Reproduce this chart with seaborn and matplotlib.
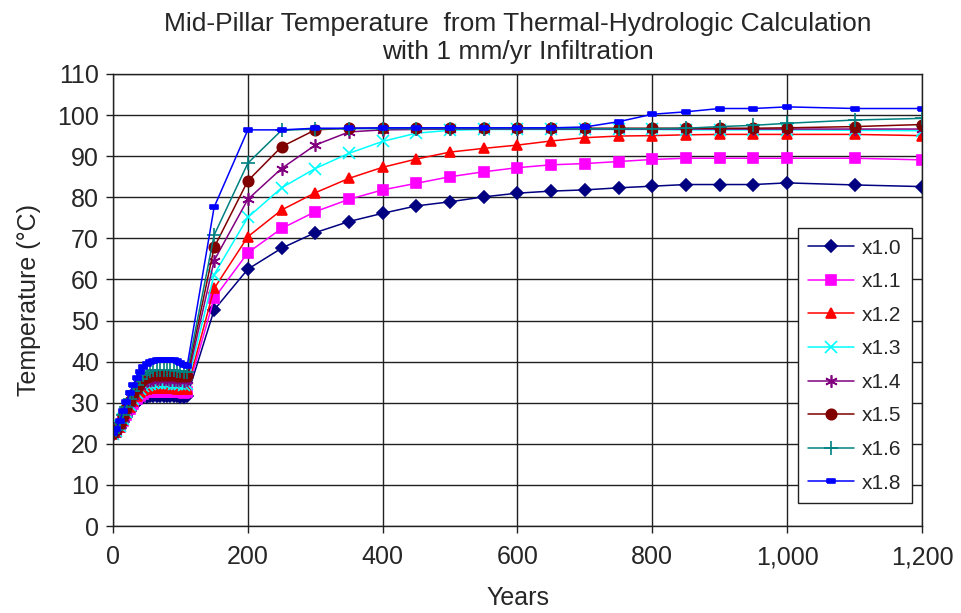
import matplotlib
matplotlib.use("Agg")
import matplotlib.pyplot as plt
import numpy as np
import pandas as pd
import seaborn as sns
from matplotlib.ticker import StrMethodFormatter

# %% data
years = [0, 5, 10, 15, 20, 25, 30, 35, 40, 45, 50, 55, 60, 65, 70, 75, 80, 85,
         90, 95, 100, 105, 110,
         150, 200, 250, 300, 350, 400, 450, 500, 550, 600, 650, 700, 750, 800,
         850, 900, 950, 1000, 1100, 1200]

t_10 = [22.3, 22.8, 23.8, 25.2, 26.6, 28.0, 29.2, 30.2, 30.9, 31.3, 31.5, 31.6,
        31.6, 31.7, 31.7, 31.7, 31.7, 31.6, 31.6, 31.6, 31.5, 31.5, 31.6,
        52.6, 62.5, 67.6, 71.4, 74.1, 76.1, 77.9, 78.9, 80.1, 81.0, 81.5, 81.8,
        82.3, 82.7, 83.1, 83.1, 83.1, 83.5, 83.0, 82.6]
t_11 = [22.4, 22.9, 24.0, 25.5, 27.0, 28.5, 29.8, 30.9, 31.7, 32.2, 32.5, 32.6,
        32.6, 32.7, 32.7, 32.7, 32.6, 32.6, 32.6, 32.5, 32.5, 32.4, 32.5,
        55.4, 66.5, 72.4, 76.5, 79.5, 81.8, 83.4, 85.0, 86.2, 87.2, 87.9, 88.2,
        88.7, 89.2, 89.5, 89.5, 89.5, 89.5, 89.5, 89.1]
t_12 = [22.4, 23.0, 24.2, 25.8, 27.4, 29.0, 30.4, 31.6, 32.5, 33.1, 33.4, 33.5,
        33.5, 33.6, 33.6, 33.6, 33.5, 33.5, 33.5, 33.4, 33.4, 33.3, 33.4,
        57.8, 70.4, 76.9, 81.1, 84.6, 87.3, 89.3, 91.0, 91.9, 92.7, 93.7, 94.5,
        94.9, 95.0, 95.2, 95.3, 95.3, 95.3, 95.3, 95.0]
t_13 = [22.5, 23.1, 24.4, 26.1, 27.8, 29.5, 31.0, 32.3, 33.3, 34.0, 34.4, 34.6,
        34.7, 34.7, 34.8, 34.8, 34.7, 34.7, 34.6, 34.6, 34.5, 34.4, 34.5,
        61.2, 75.1, 82.3, 87.0, 90.7, 93.6, 95.6, 96.3, 96.5, 96.5, 96.5, 96.5,
        96.5, 96.5, 96.4, 96.4, 96.4, 96.4, 96.3, 96.2]
t_14 = [22.5, 23.2, 24.6, 26.4, 28.2, 30.0, 31.6, 33.0, 34.1, 34.9, 35.3, 35.5,
        35.6, 35.7, 35.7, 35.7, 35.7, 35.6, 35.6, 35.5, 35.5, 35.4, 35.5,
        64.6, 79.5, 87.0, 92.7, 95.9, 96.4, 96.5, 96.6, 96.6, 96.6, 96.6, 96.6,
        96.6, 96.6, 96.6, 96.6, 96.6, 96.6, 96.6, 96.6]
t_15 = [22.6, 23.3, 24.8, 26.7, 28.6, 30.5, 32.2, 33.7, 34.9, 35.8, 36.3, 36.6,
        36.7, 36.8, 36.8, 36.8, 36.8, 36.7, 36.7, 36.6, 36.5, 36.4, 36.4,
        67.8, 84.0, 92.3, 96.4, 96.8, 96.8, 96.8, 96.8, 96.8, 96.8, 96.8, 96.8,
        96.8, 96.8, 96.8, 96.8, 96.8, 96.9, 97.2, 97.7]
t_16 = [22.6, 23.4, 25.0, 27.0, 29.0, 31.0, 32.8, 34.4, 35.7, 36.7, 37.3, 37.7,
        37.9, 38.0, 38.0, 38.0, 38.0, 37.9, 37.9, 37.8, 37.7, 37.5, 37.5,
        70.8, 88.3, 96.3, 96.6, 96.7, 96.7, 96.7, 96.7, 96.7, 96.7, 96.7, 96.7,
        96.7, 96.7, 96.8, 97.2, 97.5, 98.0, 98.8, 99.2]
t_18 = [22.7, 23.6, 25.6, 28.0, 30.2, 32.4, 34.4, 36.1, 37.5, 38.6, 39.4, 39.9,
        40.2, 40.4, 40.5, 40.5, 40.5, 40.4, 40.3, 40.1, 39.7, 39.2, 39.0,
        77.6, 96.4, 96.4, 96.8, 96.8, 96.9, 96.9, 96.9, 96.9, 96.9, 96.9, 97.1,
        98.4, 100.2, 100.8, 101.6, 101.6, 102.0, 101.6, 101.6]

labels = ["x1.0", "x1.1", "x1.2", "x1.3", "x1.4", "x1.5", "x1.6", "x1.8"]
series = [t_10, t_11, t_12, t_13, t_14, t_15, t_16, t_18]

colors = ["#000080", "#FF00FF", "#FF0000", "#00FFFF", "#800080", "#800000",
          "#008080", "#0000FF"]
dash = [(-1, -0.45), (1, -0.45), (1, 0.45), (-1, 0.45), (-1, -0.45)]
markers = ["D", "s", "^", "x", (6, 2, 0), "o", "+", dash]
msizes = [6, 7.5, 7.5, 8, 9, 7.5, 10, 6]

df = pd.DataFrame({"Years": years})
for lab, s in zip(labels, series):
    df[lab] = s
df = df.melt(id_vars="Years", var_name="case", value_name="Temp")

# %% plot
sns.set_style("white")
plt.rcParams["font.family"] = ["Liberation Sans", "DejaVu Sans"]

fig = plt.figure(figsize=(9.61, 6.13), dpi=100)
ax = fig.add_axes([0.1176, 0.1419, 0.8418, 0.7374])

for lab, c, m, ms in zip(labels, colors, markers, msizes):
    sub = df[df["case"] == lab]
    sns.lineplot(data=sub, x="Years", y="Temp", ax=ax, color=c, lw=1.1,
                 marker=m, markersize=ms, markeredgecolor=c, markerfacecolor=c,
                 markeredgewidth=1.2, label=lab, sort=False)

ax.set_xlim(0, 1200)
ax.set_ylim(0, 110)
ax.set_xticks(np.arange(0, 1201, 200))
ax.set_yticks(np.arange(0, 111, 10))
ax.xaxis.set_major_formatter(StrMethodFormatter("{x:,.0f}"))
ax.grid(True, color="#202020", lw=1.0)
ax.set_axisbelow(True)
for sp in ax.spines.values():
    sp.set_color("#202020")
    sp.set_linewidth(1.0)
ax.tick_params(direction="out", length=5, width=1, color="#202020",
               labelsize=18, bottom=True, left=True)
ax.tick_params(axis="x", pad=9)
ax.tick_params(axis="y", pad=5)

ax.set_xlabel("Years", fontsize=18, labelpad=12)
ax.set_ylabel("Temperature (\u00b0C)", fontsize=18, labelpad=12)
ax.set_title("Mid-Pillar Temperature  from Thermal-Hydrologic Calculation\n"
             "with 1 mm/yr Infiltration", fontsize=19, pad=11, linespacing=1.2)

leg = ax.legend(loc="upper right", bbox_to_anchor=(0.988, 0.659), fontsize=15,
                frameon=True, fancybox=False, edgecolor="#202020", framealpha=1,
                labelspacing=0.7, handlelength=2.2, borderpad=0.5,
                handletextpad=0.4, borderaxespad=0)
leg.get_frame().set_linewidth(1.0)

fig.savefig("out.png", dpi=100)
